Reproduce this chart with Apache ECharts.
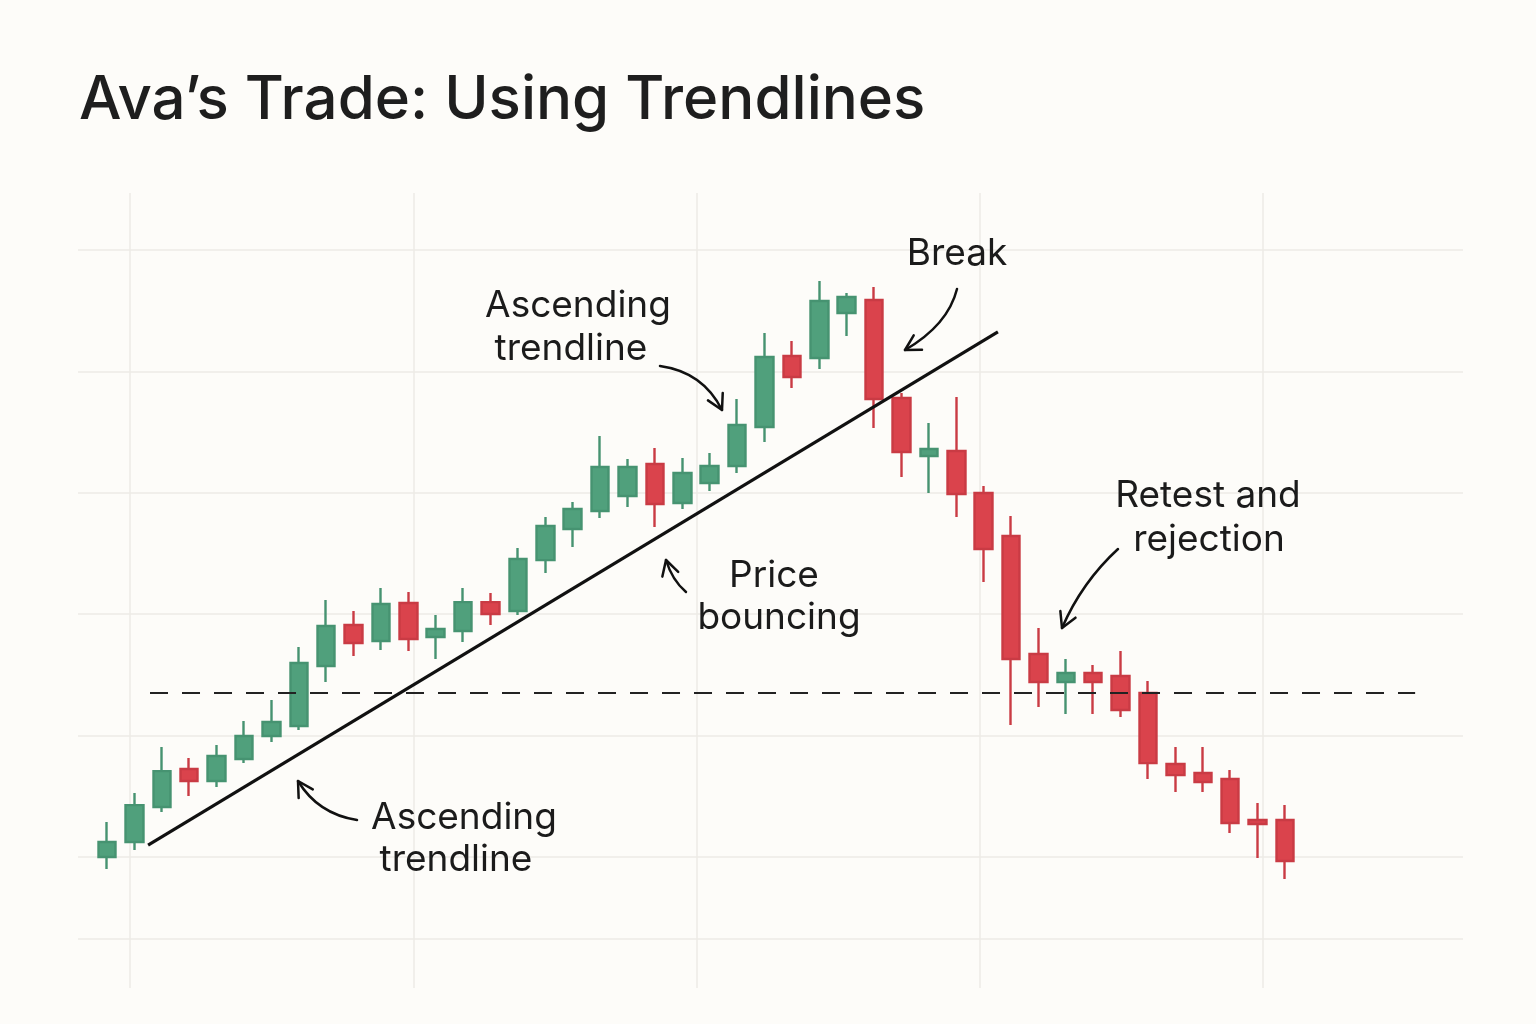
<!DOCTYPE html>
<html>
<head>
<meta charset="utf-8">
<script src="https://cdn.jsdelivr.net/npm/echarts@6/dist/echarts.min.js"></script>
<style>
  html, body { margin: 0; padding: 0; background: #FDFCF9; }
  #chart { width: 1536px; height: 1024px; }
</style>
</head>
<body>
<div id="chart"></div>
<script>
// ---- Data (price units) ----
const titleText = 'Ava\u2019s Trade: Using Trendlines';
const opens  = [100.0,101.24,104.12,107.25,106.26,108.07,109.97,110.79,115.73,119.11,117.79,120.92,118.12,118.62,121.00,120.26,124.46,127.02,128.50,129.74,132.37,129.16,130.81,132.21,135.42,141.27,141.10,144.81,145.88,137.81,133.03,133.44,129.98,126.44,116.72,114.42,115.16,114.91,113.51,107.66,106.92,106.43,103.05,103.05];
const closes = [101.24,104.28,107.08,106.26,108.32,109.97,111.12,115.98,119.03,117.63,120.84,117.96,118.78,121.00,120.02,124.55,127.27,128.67,132.13,132.13,129.08,131.63,132.21,135.58,141.19,139.54,145.80,146.13,137.73,133.36,133.61,129.90,125.37,116.31,114.42,115.16,114.42,112.11,107.74,106.75,106.18,102.80,102.72,99.67];
const lows   = [99.01,100.58,103.71,105.02,105.77,107.74,109.47,110.46,114.42,116.56,117.05,116.97,116.31,117.71,119.11,119.93,123.39,125.54,127.92,128.83,127.18,128.67,130.15,131.63,134.18,138.63,140.20,142.92,135.34,131.30,129.98,128.01,122.65,110.87,112.36,111.78,111.78,111.53,106.43,105.35,105.35,101.98,99.92,98.19];
const highs  = [102.88,105.27,109.06,108.15,109.23,111.20,112.93,117.30,121.17,120.26,122.16,121.83,119.93,122.16,121.75,125.45,128.01,129.24,134.68,132.78,133.69,132.87,133.28,137.73,143.16,142.50,147.45,146.46,146.95,138.22,135.75,137.89,130.56,128.09,118.86,116.31,115.82,116.97,114.50,109.06,109.06,107.17,104.45,104.28];
// trendline and support level endpoints: [candle index, price]
const trendline = [[1.50, 100.99], [32.52, 143.25]];
const supportLine = [[1.57, 113.51], [47.75, 113.51]];

const candleData = opens.map((o, i) => [i, o, closes[i], lows[i], highs[i]]);

const GREEN = '#50A07C', GREEN_B = '#469371';
const RED = '#DA434C', RED_B = '#C93B44';
const GRID_C = '#ECEBE6';
const FONT = 'Inter, "Noto Sans", sans-serif';

const chart = echarts.init(document.getElementById('chart'), null, { renderer: 'canvas' });

function arrow(p0, c, p1) {
  const dx = p1[0] - c[0], dy = p1[1] - c[1];
  const len = Math.hypot(dx, dy);
  const ux = -dx / len, uy = -dy / len;
  const L = 17, a = Math.PI / 6.2;
  const rot = (x, y, t) => [x * Math.cos(t) - y * Math.sin(t), x * Math.sin(t) + y * Math.cos(t)];
  const b1 = rot(ux, uy, a), b2 = rot(ux, uy, -a);
  return [
    { type: 'bezierCurve', shape: { x1: p0[0], y1: p0[1], cpx1: c[0], cpy1: c[1], x2: p1[0], y2: p1[1] },
      style: { stroke: '#111', lineWidth: 2.5, fill: null, lineCap: 'round' }, z: 10 },
    { type: 'polyline', shape: { points: [[p1[0] + b1[0] * L, p1[1] + b1[1] * L], p1, [p1[0] + b2[0] * L, p1[1] + b2[1] * L]] },
      style: { stroke: '#111', lineWidth: 2.5, fill: null, lineCap: 'round', lineJoin: 'round' }, z: 10 }
  ];
}
function label(text, x, y) {
  return { type: 'text', x: x, y: y, z: 10,
    style: { text: text, fill: '#1B1B1B', font: '400 37px ' + FONT, textAlign: 'center', textVerticalAlign: 'middle' } };
}

const graphics = [].concat(
  label('Ascending', 578, 306), label('trendline', 571, 349),
  arrow([660, 366], [703, 372], [722, 410]),
  label('Break', 957, 254),
  arrow([957, 289], [948, 325], [905, 350]),
  label('Price', 774, 576), label('bouncing', 779, 618),
  arrow([686, 592], [672, 580], [666, 560]),
  label('Ascending', 464, 818), label('trendline', 456, 860),
  arrow([357, 820], [318, 814], [298, 781]),
  label('Retest and', 1208, 496), label('rejection', 1209, 540),
  arrow([1118, 549], [1082, 582], [1062, 628])
);

const option = {
  backgroundColor: '#FDFCF9',
  animation: false,
  title: {
    text: titleText, left: 74, top: 66,
    textStyle: { fontFamily: FONT, fontSize: 60, fontWeight: 500, color: '#1E1E1E' }
  },
  grid: [
    { left: 130, right: 273, top: 193, bottom: 36 },
    { left: 78, right: 73, top: 250, bottom: 85 }
  ],
  xAxis: [
    { gridIndex: 0, type: 'value', min: 0, max: 4, interval: 1,
      axisLine: { show: false }, axisTick: { show: false }, axisLabel: { show: false },
      splitLine: { show: true, lineStyle: { color: GRID_C, width: 1.5 } } },
    { gridIndex: 1, type: 'value', min: -1.0586, max: 49.4975,
      axisLine: { show: false }, axisTick: { show: false }, axisLabel: { show: false }, splitLine: { show: false } }
  ],
  yAxis: [
    { gridIndex: 0, type: 'value', show: false, splitLine: { show: false } },
    { gridIndex: 1, type: 'value', min: 93.25, max: 150, scale: true,
      axisLine: { show: false }, axisTick: { show: false }, axisLabel: { show: false },
      splitLine: { show: true, lineStyle: { color: GRID_C, width: 1.5 } } }
  ],
  series: [
    { type: 'candlestick', xAxisIndex: 1, yAxisIndex: 1, data: candleData,
      encode: { x: 0, y: [1, 2, 3, 4] }, barWidth: 18,
      itemStyle: { color: GREEN, color0: RED, borderColor: GREEN_B, borderColor0: RED_B, borderWidth: 2.4 } },
    { type: 'line', xAxisIndex: 1, yAxisIndex: 1, data: supportLine, symbol: 'none',
      lineStyle: { color: '#222', width: 2, type: [18, 14] }, z: 4 },
    { type: 'line', xAxisIndex: 1, yAxisIndex: 1, data: trendline, symbol: 'none',
      lineStyle: { color: '#111', width: 3.2 }, z: 5 }
  ],
  graphic: graphics
};
chart.setOption(option);
</script>
</body>
</html>
